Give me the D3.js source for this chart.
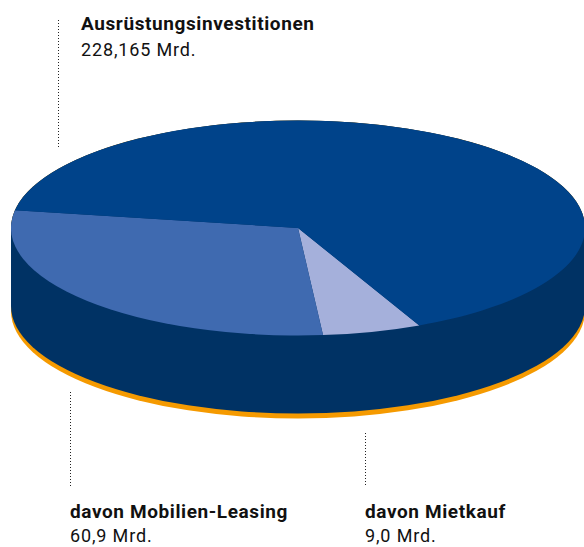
<!DOCTYPE html>
<html>
<head>
  <meta charset="utf-8">
  <title>Ausrüstungsinvestitionen</title>
  <script src="https://d3js.org/d3.v7.min.js"></script>
  <style>
    html, body { margin: 0; padding: 0; background: #fff; }
    svg { display: block; }
    text { font-family: Roboto, sans-serif; fill: #111; }
    .name { font-weight: 700; font-size: 19px; letter-spacing: 0.6px; }
    .value { font-weight: 400; font-size: 18px; letter-spacing: 0.85px; }
  </style>
</head>
<body>
  <div id="chart"></div>

  <script>
    // slices as drawn in the picture (degrees of the tilted disc), clockwise from Mietkauf
    const sliceNames = ["davon Mietkauf", "davon Mobilien-Leasing", "Ausrüstungsinvestitionen"];
    const sliceSweeps = [20, 104.5, 235.5];
    const sliceColors = ["#a5b0db", "#3f6ab0", "#00438a"];

    const labelNames = ["Ausrüstungsinvestitionen", "davon Mobilien-Leasing", "davon Mietkauf"];
    const labelValues = ["228,165 Mrd.", "60,9 Mrd.", "9,0 Mrd."];
    const labelX = [81, 70, 365];
    const labelY = [30, 518, 518];
    const valueY = [56, 542, 542];
    const leaderX = [58.5, 70.5, 365.5];
    const leaderTop = [20, 392, 433];
    const leaderBottom = [149, 486, 486];

    const width = 584;
    const height = 547;
    const cx = 298;
    const cy = 228;
    const rx = 287;
    const ry = 107.5;
    const depth = 78;
    const rimOffset = 5;

    const svg = d3.select("#chart")
      .append("svg")
      .attr("width", width)
      .attr("height", height);

    // everything in the disc group is a circle, the transform squashes it
    const tilt = ry / rx;
    const disc = svg.append("g")
      .attr("transform", `translate(${cx}, ${cy}) scale(1, ${tilt})`);

    function wall(offset) {
      const p = d3.path();
      p.moveTo(rx, 0);
      p.arc(0, offset / tilt, rx, 0, Math.PI);
      p.arc(0, 0, rx, Math.PI, 0);
      p.closePath();
      return p.toString();
    }

    disc.append("path")
      .attr("d", wall(depth + rimOffset))
      .attr("fill", "#f59a00");

    disc.append("path")
      .attr("d", wall(depth))
      .attr("fill", "#003264");

    const pie = d3.pie()
      .sort(null)
      .value(d => d)
      .startAngle(155 * Math.PI / 180)
      .endAngle(515 * Math.PI / 180);

    const arc = d3.arc()
      .innerRadius(0)
      .outerRadius(rx);

    disc.selectAll(".slice")
      .data(pie(sliceSweeps))
      .enter()
      .append("path")
      .attr("class", "slice")
      .attr("d", arc)
      .attr("fill", (d, i) => sliceColors[i]);

    svg.selectAll(".leader")
      .data(leaderX)
      .enter()
      .append("line")
      .attr("class", "leader")
      .attr("x1", d => d)
      .attr("x2", d => d)
      .attr("y1", (d, i) => leaderTop[i])
      .attr("y2", (d, i) => leaderBottom[i])
      .attr("stroke", "#222")
      .attr("stroke-width", 1)
      .attr("stroke-dasharray", "1 2");

    svg.selectAll(".name")
      .data(labelNames)
      .enter()
      .append("text")
      .attr("class", "name")
      .attr("x", (d, i) => labelX[i])
      .attr("y", (d, i) => labelY[i])
      .text(d => d);

    svg.selectAll(".value")
      .data(labelValues)
      .enter()
      .append("text")
      .attr("class", "value")
      .attr("x", (d, i) => labelX[i])
      .attr("y", (d, i) => valueY[i])
      .text(d => d);
  </script>
</body>
</html>
